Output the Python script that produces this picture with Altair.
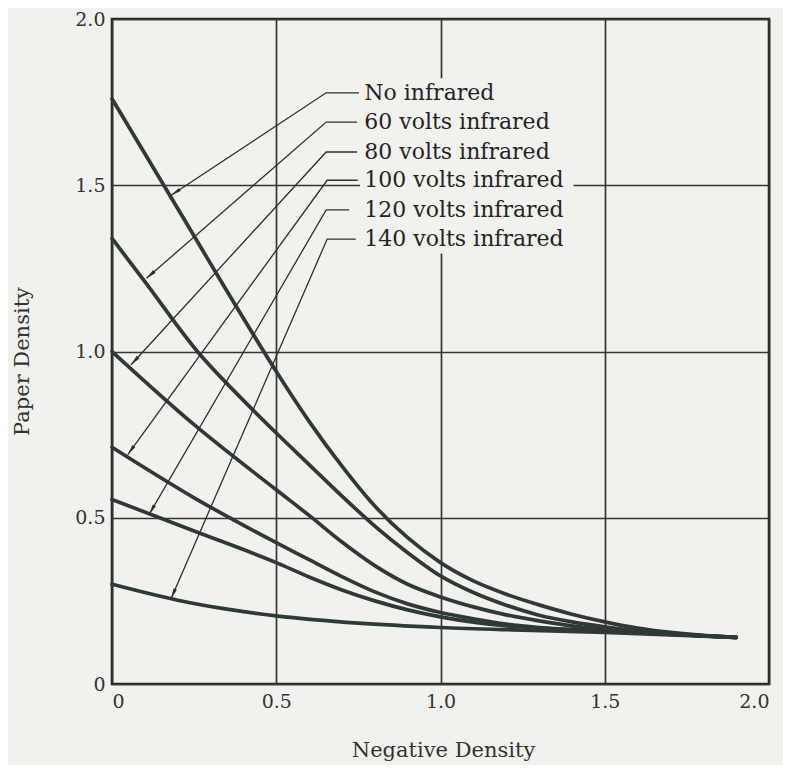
import math
import altair as alt
import pandas as pd

# ---------------- data ----------------
series = ["No infrared", "60 volts infrared", "80 volts infrared",
          "100 volts infrared", "120 volts infrared", "140 volts infrared"]

no_ir_x = [0, 0.2, 0.4, 0.5, 0.6, 0.7, 0.8, 0.9, 1.0, 1.1, 1.2, 1.3, 1.4, 1.5, 1.6, 1.7, 1.8, 1.9]
no_ir_y = [1.76, 1.43, 1.10, 0.94, 0.79, 0.655, 0.535, 0.44, 0.365, 0.31, 0.27, 0.238, 0.21, 0.187, 0.168, 0.155, 0.146, 0.14]

v60_x = [0, 0.1, 0.26, 0.4, 0.5, 0.6, 0.7, 0.8, 0.9, 1.0, 1.1, 1.2, 1.3, 1.4, 1.5, 1.6, 1.7, 1.8, 1.9]
v60_y = [1.34, 1.21, 1.0, 0.853, 0.755, 0.66, 0.565, 0.475, 0.395, 0.325, 0.275, 0.237, 0.207, 0.187, 0.172, 0.16, 0.152, 0.145, 0.14]

v80_x = [0, 0.25, 0.5, 0.6, 0.7, 0.8, 0.9, 1.0, 1.1, 1.2, 1.3, 1.4, 1.5, 1.7, 1.9]
v80_y = [1.0, 0.78, 0.584, 0.507, 0.427, 0.356, 0.30, 0.262, 0.232, 0.208, 0.19, 0.175, 0.164, 0.15, 0.14]

v100_x = [0, 0.25, 0.5, 0.6, 0.7, 0.8, 0.9, 1.0, 1.1, 1.2, 1.3, 1.5, 1.7, 1.9]
v100_y = [0.712, 0.56, 0.425, 0.374, 0.323, 0.277, 0.241, 0.215, 0.196, 0.18, 0.17, 0.16, 0.15, 0.14]

v120_x = [0, 0.25, 0.5, 0.6, 0.7, 0.8, 0.9, 1.0, 1.1, 1.2, 1.3, 1.5, 1.7, 1.9]
v120_y = [0.555, 0.46, 0.365, 0.322, 0.283, 0.25, 0.223, 0.202, 0.186, 0.175, 0.168, 0.158, 0.15, 0.14]

v140_x = [0, 0.1, 0.2, 0.35, 0.5, 0.75, 1.0, 1.25, 1.5, 1.7, 1.9]
v140_y = [0.30, 0.275, 0.252, 0.225, 0.205, 0.183, 0.17, 0.162, 0.155, 0.148, 0.14]

# leader labels: text anchor, elbow, end of short horizontal stroke, arrow tip
label_x = [0.768, 0.768, 0.768, 0.768, 0.768, 0.768]
label_y = [1.778, 1.69, 1.60, 1.515, 1.426, 1.338]
elbow_x = [0.652, 0.652, 0.652, 0.655, 0.652, 0.655]
hend_x = [0.752, 0.746, 0.746, 0.748, 0.722, 0.742]
tip_x = [0.18, 0.105, 0.058, 0.048, 0.113, 0.18]
tip_y = [1.47, 1.22, 0.96, 0.69, 0.51, 0.257]

ticks = [0, 0.5, 1.0, 1.5, 2.0]

# label backing box (hides grid behind the label block)
box = {"x": [0.755], "x2": [1.405], "y": [1.295], "y2": [1.822]}

# ---------------- build tables ----------------
curve_sets = [(no_ir_x, no_ir_y), (v60_x, v60_y), (v80_x, v80_y),
              (v100_x, v100_y), (v120_x, v120_y), (v140_x, v140_y)]
rows = []
for name, (xs_, ys_) in zip(series, curve_sets):
    for i, (a, b) in enumerate(zip(xs_, ys_)):
        rows.append({"series": name, "x": a, "y": b, "o": i})
curves = pd.DataFrame(rows)

W, H = 657, 665
PX, PY = W / 2.0, H / 2.0

lead_rows, tip_rows, text_rows = [], [], []
for k, name in enumerate(series):
    lead_rows.append({"series": name, "x": hend_x[k], "y": label_y[k], "o": 0})
    lead_rows.append({"series": name, "x": elbow_x[k], "y": label_y[k], "o": 1})
    lead_rows.append({"series": name, "x": tip_x[k], "y": tip_y[k], "o": 2})
    dx = (tip_x[k] - elbow_x[k]) * PX
    dy = -(tip_y[k] - label_y[k]) * PY
    ang = math.degrees(math.atan2(dx, -dy)) % 360
    tip_rows.append({"series": name, "x": tip_x[k], "y": tip_y[k], "angle": ang})
    text_rows.append({"series": name, "x": label_x[k], "y": label_y[k]})
leaders = pd.DataFrame(lead_rows)
tips = pd.DataFrame(tip_rows)
texts = pd.DataFrame(text_rows)
boxdf = pd.DataFrame(box)

# ---------------- chart ----------------
FONT = "DejaVu Serif"
INK = "#2b302f"
CURVE = "#2f3a37"
BG = "#f1f1ee"

xs = alt.Scale(domain=[0, 2], nice=False, zero=False)
ys = alt.Scale(domain=[0, 2], nice=False, zero=False)
fmt = "datum.value == 0 ? '0' : format(datum.value, '.1f')"

x_axis = alt.Axis(values=ticks, labelExpr=fmt, title="Negative Density",
                  grid=True, domain=False, ticks=False, labelPadding=8,
                  titleX=331, titleY=66, titleAlign="center", titleBaseline="middle")
y_axis = alt.Axis(values=ticks, labelExpr=fmt, title="Paper Density",
                  grid=True, domain=False, ticks=False, labelPadding=7,
                  titleX=-90, titleY=342, titleAngle=270, titleAlign="center",
                  titleBaseline="middle")

base_curves = alt.Chart(curves).mark_line(
    strokeWidth=3.7, color=CURVE, interpolate="monotone", strokeCap="round"
).encode(
    x=alt.X("x:Q", scale=xs, axis=x_axis),
    y=alt.Y("y:Q", scale=ys, axis=y_axis),
    detail="series:N",
    order="o:Q",
)

box_layer = alt.Chart(boxdf).mark_rect(fill=BG).encode(
    x=alt.X("x:Q", scale=xs), x2="x2:Q",
    y=alt.Y("y:Q", scale=ys), y2="y2:Q",
)

lead_layer = alt.Chart(leaders).mark_line(strokeWidth=1.3, color=INK).encode(
    x=alt.X("x:Q", scale=xs), y=alt.Y("y:Q", scale=ys),
    detail="series:N", order="o:Q",
)

arrow_layer = alt.Chart(tips).mark_point(
    shape="M0,0L0.34,1.9L-0.34,1.9Z", filled=True, size=120, color=INK, opacity=1
).encode(
    x=alt.X("x:Q", scale=xs), y=alt.Y("y:Q", scale=ys),
    angle=alt.Angle("angle:Q", scale=None),
)

text_layer = alt.Chart(texts).mark_text(
    align="left", baseline="middle", font=FONT, fontSize=22, color="#242424"
).encode(
    x=alt.X("x:Q", scale=xs), y=alt.Y("y:Q", scale=ys), text="series:N",
)

chart = alt.layer(
    box_layer, base_curves, lead_layer, arrow_layer, text_layer
).properties(
    width=W, height=H, background=BG,
    padding={"left": 104, "top": 11, "right": 14, "bottom": 81},
    autosize=alt.AutoSizeParams(type="none"),
).configure_view(
    stroke="#262626", strokeWidth=2.6
).configure_axis(
    gridColor="#353535", gridWidth=1.7, gridOpacity=1,
    labelFont=FONT, labelFontSize=19, labelColor="#333333",
    titleFont=FONT, titleFontSize=21, titleFontWeight="normal", titleColor="#333333",
)

chart.save("out.html", embed_options={"renderer": "svg", "actions": False})
